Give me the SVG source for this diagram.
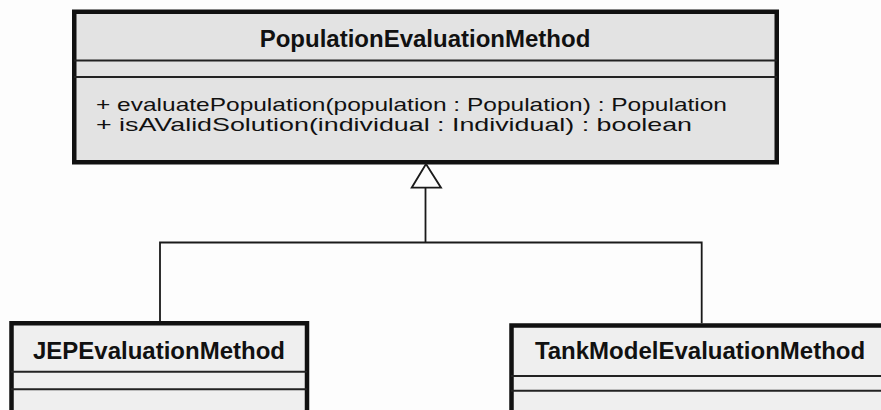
<svg xmlns="http://www.w3.org/2000/svg" width="881" height="410" viewBox="0 0 881 410">
  <style>
    .box { stroke: #111; stroke-width: 4.5; }
    .top { fill: #e3e3e3; }
    .sub { fill: #efefef; }
    .div { stroke: #222; stroke-width: 2; }
    .title { font-family: "Liberation Sans", Arial, sans-serif; font-weight: bold; font-size: 24px; fill: #111; text-anchor: middle; }
    .op { font-family: "Liberation Sans", Arial, sans-serif; font-size: 18.5px; fill: #111; }
    .conn { fill: none; stroke: #1a1a1a; stroke-width: 1.8; }
    .head { fill: #fdfdfd; stroke: #1a1a1a; stroke-width: 1.8; stroke-linejoin: miter; }
  </style>
  <rect width="881" height="410" fill="#fdfdfd"/>

  <g id="PopulationEvaluationMethod">
    <rect class="box top" x="74.25" y="11.75" width="702.5" height="150.5"/>
    <line class="div" x1="74" y1="60.5" x2="777" y2="60.5"/>
    <line class="div" x1="74" y1="77" x2="777" y2="77"/>
    <text class="title" x="425" y="46.5">PopulationEvaluationMethod</text>
    <text class="op" x="96" y="110.5" textLength="631" lengthAdjust="spacingAndGlyphs">+ evaluatePopulation(population : Population) : Population</text>
    <text class="op" x="96" y="131" textLength="596" lengthAdjust="spacingAndGlyphs">+ isAValidSolution(individual : Individual) : boolean</text>
  </g>

  <g id="JEPEvaluationMethod">
    <rect class="box sub" x="11.5" y="323.25" width="295.5" height="200"/>
    <line class="div" x1="11" y1="371.7" x2="307" y2="371.7"/>
    <line class="div" x1="11" y1="389.3" x2="307" y2="389.3"/>
    <text class="title" x="159" y="358.5">JEPEvaluationMethod</text>
  </g>

  <g id="TankModelEvaluationMethod">
    <rect class="box sub" x="511.5" y="325.5" width="379" height="200"/>
    <line class="div" x1="511" y1="376" x2="890" y2="376"/>
    <line class="div" x1="511" y1="390.7" x2="890" y2="390.7"/>
    <text class="title" x="700" y="358.5">TankModelEvaluationMethod</text>
  </g>

  <g id="connectors">
    <path class="conn" d="M425.5,187.7 V242.5 M160,321 V242.5 H701.7 V323.3"/>
    <polygon class="head" points="426,164 411.7,187.7 441,187.7"/>
  </g>
</svg>
